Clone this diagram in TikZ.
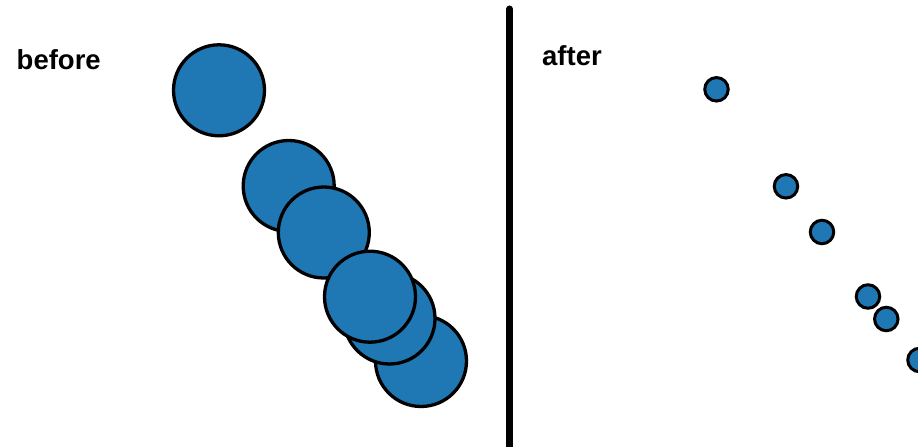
\documentclass[tikz,border=0pt]{standalone}
\usepackage{fontspec}
\setmainfont{Liberation Sans}
\definecolor{dotblue}{HTML}{1F77B4}
\begin{document}
\begin{tikzpicture}[x=1bp,y=-1bp,
  bigdot/.style={circle, draw=black, fill=dotblue, line width=3.3bp, minimum size=91bp, inner sep=0pt},
  smalldot/.style={circle, draw=black, fill=dotblue, line width=3bp, minimum size=23.5bp, inner sep=0pt},
  label/.style={anchor=base west, inner sep=0pt, font=\fontsize{27.5bp}{32bp}\selectfont\bfseries}]
\useasboundingbox (0,0) rectangle (918,447);
\node[label] (before) at (16.5,69.5) {before};
\node[label] (after) at (542,66) {after};
\draw[line width=7bp, line cap=round] (509.5,9) -- (509.5,460);
% before
\node[bigdot] (b1) at (219,90.3) {};
\node[bigdot] (b2) at (288.7,186) {};
\node[bigdot] (b3) at (323.8,232.5) {};
\node[bigdot] (b6) at (421,361) {};
\node[bigdot] (b5) at (389.5,318.5) {};
\node[bigdot] (b4) at (370,296.7) {};
% after
\node[smalldot] (a1) at (716.5,89.3) {};
\node[smalldot] (a2) at (786,186.3) {};
\node[smalldot] (a3) at (822,232) {};
\node[smalldot] (a4) at (868,296.5) {};
\node[smalldot] (a5) at (886.3,319) {};
\node[smalldot] (a6) at (919.5,360) {};
\end{tikzpicture}
\end{document}
